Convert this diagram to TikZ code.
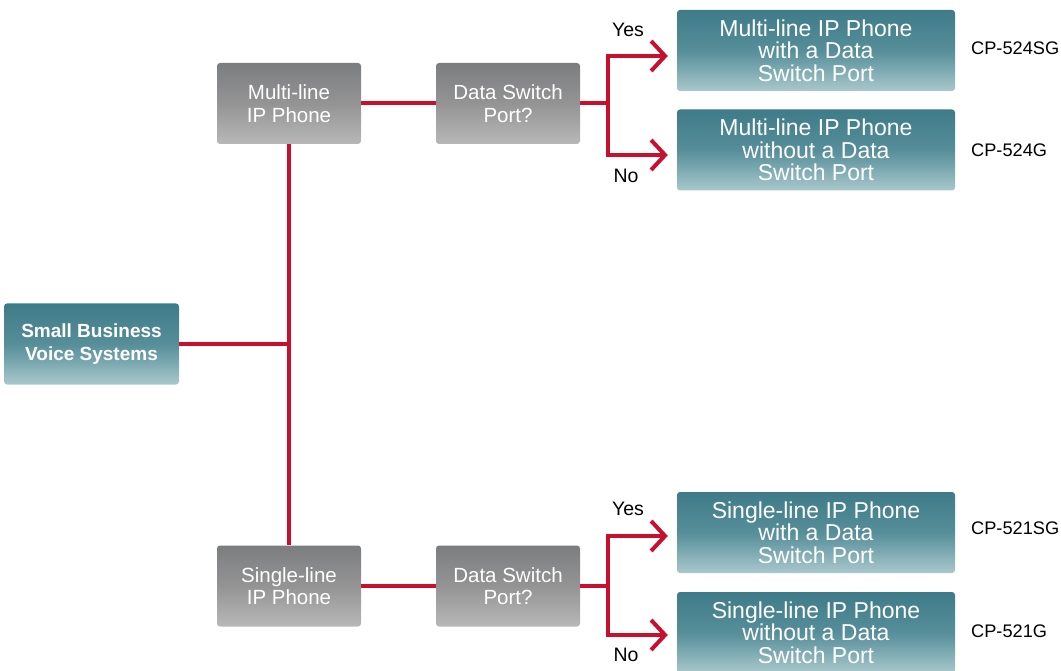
\documentclass[tikz,border=0pt]{standalone}
\usepackage{fontspec}
\setmainfont{Liberation Sans}
\usetikzlibrary{arrows.meta,calc}
\definecolor{linered}{RGB}{200,16,46}
\definecolor{tealtop}{RGB}{62,123,136}
\definecolor{tealmid}{RGB}{86,142,153}
\definecolor{tealbot}{RGB}{168,200,204}
\definecolor{graytop}{RGB}{124,125,127}
\definecolor{graymid}{RGB}{148,148,149}
\definecolor{graybot}{RGB}{184,184,184}
\tikzset{
  tealbox/.style={rectangle, rounded corners=3pt, minimum width=278pt, minimum height=81pt,
    top color=tealtop, bottom color=tealbot, middle color=tealmid, text=white, align=center,
    inner sep=0pt, font=\fontsize{23}{22.5}\selectfont},
  rootbox/.style={tealbox, minimum width=175pt, font=\fontsize{19}{23.5}\selectfont\bfseries},
  graybox/.style={rectangle, rounded corners=3pt, minimum width=144pt, minimum height=81pt,
    top color=graytop, bottom color=graybot, middle color=graymid, text=white, align=center,
    inner sep=0pt, font=\fontsize{20.5}{22.5}\selectfont},
  conn/.style={draw=linered, line width=4pt},
  arr/.style={conn, -{Straight Barb[length=14pt,width=30pt]}, shorten >=9pt},
  yesno/.style={font=\fontsize{19.5}{22}\selectfont, text=black, inner sep=0pt},
  model/.style={font=\fontsize{18.2}{20}\selectfont, text=black, anchor=west, inner sep=0pt}
}
\begin{document}
\begin{tikzpicture}[x=1pt,y=-1pt]
\useasboundingbox (0,0) rectangle (1061,671);
% nodes
\node[rootbox] (sbvs) at (91.5,344) {Small Business\\Voice Systems};
\node[graybox] (ml) at (289,103.5) {Multi-line\\IP Phone};
\node[graybox] (ds1) at (508,103.5) {Data Switch\\Port?};
\node[graybox] (sl) at (289,586) {Single-line\\IP Phone};
\node[graybox] (ds2) at (508,586) {Data Switch\\Port?};
\node[tealbox] (t1) at (816,50.5) {Multi-line IP Phone\\with a Data\\Switch Port};
\node[tealbox] (t2) at (816,150) {Multi-line IP Phone\\without a Data\\Switch Port};
\node[tealbox] (t3) at (816,532.5) {Single-line IP Phone\\with a Data\\Switch Port};
\node[tealbox] (t4) at (816,632.5) {Single-line IP Phone\\without a Data\\Switch Port};
% labels
\node[yesno] (y1) at (628,30) {Yes};
\node[yesno] (n1) at (626,176) {No};
\node[yesno] (y2) at (628,509) {Yes};
\node[yesno] (n2) at (626,655) {No};
\node[model] (m1) at (971,48) {CP-524SG};
\node[model] (m2) at (971,150) {CP-524G};
\node[model] (m3) at (971,528) {CP-521SG};
\node[model] (m4) at (971,631) {CP-521G};
% connectors
\draw[conn] (ml.south) -- (sl.north);
\draw[conn] (sbvs.east) -- (sbvs.east -| ml.south);
\draw[conn] (ml.east) -- (ds1.west);
\draw[conn] (sl.east) -- (ds2.west);
\coordinate (b1) at ($(ds1.east)+(28,0)$);
\coordinate (b2) at ($(ds2.east)+(28,0)$);
\draw[conn] (ds1.east) -- (b1);
\draw[conn] (ds2.east) -- (b2);
\draw[arr] (b1) |- ([yshift=-5.5pt]t1.west);
\draw[arr] (b1) |- ([yshift=-5pt]t2.west);
\draw[arr] (b2) |- ([yshift=-3.5pt]t3.west);
\draw[arr] (b2) |- ([yshift=-2.5pt]t4.west);
\end{tikzpicture}
\end{document}
